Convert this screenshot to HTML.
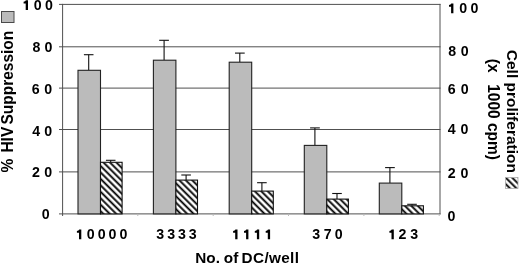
<!DOCTYPE html>
<html><head><meta charset="utf-8"><style>
html,body{margin:0;padding:0;background:#fff;width:520px;height:266px;overflow:hidden}
svg{display:block;will-change:transform}
text{font-family:"Liberation Sans",sans-serif;font-weight:bold;fill:#000}
path{fill:#000}
.ax{font-size:15.5px}
.ax2{font-size:15.3px}
.g{stroke:#505050;stroke-width:1}
.la{stroke:#333;stroke-width:1.2}
.ra{stroke:#777;stroke-width:1}
.t{stroke:#bbb;stroke-width:1}
.e{stroke:#111;stroke-width:1.1}
.gb{fill:#bbb;stroke:#222;stroke-width:1.1}
.hb{fill:url(#hatch);stroke:#111;stroke-width:1.1}
.lg{fill:#bbb;stroke:#4a4a4a;stroke-width:1}
.lh{fill:url(#hatch);stroke:#aaa;stroke-width:0.8}
</style></head><body>
<svg width="520" height="266" viewBox="0 0 520 266">
<defs>
<pattern id="hatch" patternUnits="userSpaceOnUse" width="4.561" height="10" patternTransform="rotate(-45)"><rect x="0" y="0" width="4.561" height="10" fill="#fff"/><rect x="3.035" y="0" width="1.85" height="10" fill="#000"/><rect x="-1.526" y="0" width="1.85" height="10" fill="#000"/></pattern>
</defs>
<rect x="1.5" y="11.5" width="12.5" height="11" class="lg"/>
<rect x="505.5" y="177.5" width="12.5" height="11" class="lh"/>
<line x1="59" y1="4.4" x2="440.5" y2="4.4" class="g"/>
<line x1="59" y1="46.8" x2="440.5" y2="46.8" class="g"/>
<line x1="59" y1="88.1" x2="440.5" y2="88.1" class="g"/>
<line x1="59" y1="129.5" x2="440.5" y2="129.5" class="g"/>
<line x1="59" y1="171.9" x2="440.5" y2="171.9" class="g"/>
<line x1="59" y1="213.9" x2="440.5" y2="213.9" class="g"/>
<line x1="440.0" y1="3.9" x2="440.0" y2="214.4" class="g"/>
<line x1="62.6" y1="3.9" x2="62.6" y2="216" class="g"/>
<line x1="137.8" y1="213.9" x2="137.8" y2="216" class="t"/>
<line x1="213.2" y1="213.9" x2="213.2" y2="216" class="t"/>
<line x1="288.5" y1="213.9" x2="288.5" y2="216" class="t"/>
<line x1="363.9" y1="213.9" x2="363.9" y2="216" class="t"/>
<line x1="439.2" y1="213.9" x2="439.2" y2="216" class="t"/>
<line x1="88.7" y1="54.7" x2="88.7" y2="70.3" class="e"/>
<line x1="83.9" y1="54.7" x2="93.5" y2="54.7" class="e"/>
<line x1="110.7" y1="160.3" x2="110.7" y2="162.3" class="e"/>
<line x1="105.9" y1="160.3" x2="115.5" y2="160.3" class="e"/>
<rect x="78.0" y="70.3" width="22.5" height="143.6" class="gb"/>
<rect x="100.5" y="162.3" width="21.6" height="51.6" class="hb"/>
<line x1="164.1" y1="40.3" x2="164.1" y2="60.2" class="e"/>
<line x1="159.2" y1="40.3" x2="168.9" y2="40.3" class="e"/>
<line x1="186.1" y1="175.0" x2="186.1" y2="180.1" class="e"/>
<line x1="181.3" y1="175.0" x2="190.9" y2="175.0" class="e"/>
<rect x="153.4" y="60.2" width="22.5" height="153.7" class="gb"/>
<rect x="175.9" y="180.1" width="21.6" height="33.8" class="hb"/>
<line x1="239.8" y1="53.1" x2="239.8" y2="62.2" class="e"/>
<line x1="235.0" y1="53.1" x2="244.7" y2="53.1" class="e"/>
<line x1="261.9" y1="182.7" x2="261.9" y2="191.1" class="e"/>
<line x1="257.1" y1="182.7" x2="266.7" y2="182.7" class="e"/>
<rect x="229.2" y="62.2" width="22.5" height="151.7" class="gb"/>
<rect x="251.7" y="191.1" width="21.6" height="22.8" class="hb"/>
<line x1="314.9" y1="127.9" x2="314.9" y2="145.4" class="e"/>
<line x1="310.1" y1="127.9" x2="319.8" y2="127.9" class="e"/>
<line x1="337.0" y1="193.5" x2="337.0" y2="199.1" class="e"/>
<line x1="332.2" y1="193.5" x2="341.8" y2="193.5" class="e"/>
<rect x="304.3" y="145.4" width="22.5" height="68.5" class="gb"/>
<rect x="326.8" y="199.1" width="21.6" height="14.8" class="hb"/>
<line x1="389.9" y1="167.6" x2="389.9" y2="183.1" class="e"/>
<line x1="385.1" y1="167.6" x2="394.8" y2="167.6" class="e"/>
<line x1="412.0" y1="204.3" x2="412.0" y2="205.8" class="e"/>
<line x1="407.2" y1="204.3" x2="416.8" y2="204.3" class="e"/>
<rect x="379.3" y="183.1" width="22.5" height="30.8" class="gb"/>
<rect x="401.8" y="205.8" width="21.6" height="8.1" class="hb"/>
<path d="M28.00,0.20 L28.00,10.00 L25.70,10.00 L25.70,3.50 L23.60,3.50 L23.60,1.70 Q25.50,1.60 25.90,0.20 Z"/>
<text x="33.73" y="10.00" style="font-size:14.2px">0</text>
<text x="44.93" y="10.00" style="font-size:14.2px">0</text>
<text x="32.55" y="51.50" style="font-size:14.2px">8</text>
<text x="44.43" y="51.50" style="font-size:14.2px">0</text>
<text x="31.87" y="93.50" style="font-size:14.2px">6</text>
<text x="44.33" y="93.50" style="font-size:14.2px">0</text>
<text x="32.19" y="135.50" style="font-size:14.2px">4</text>
<text x="44.33" y="135.50" style="font-size:14.2px">0</text>
<text x="31.90" y="177.00" style="font-size:14.2px">2</text>
<text x="44.33" y="177.00" style="font-size:14.2px">0</text>
<text x="41.73" y="218.70" style="font-size:14.2px">0</text>
<path d="M453.40,3.50 L453.40,13.30 L451.10,13.30 L451.10,6.80 L449.00,6.80 L449.00,5.00 Q450.90,4.90 451.30,3.50 Z"/>
<text x="459.33" y="13.30" style="font-size:14.2px">0</text>
<text x="470.43" y="13.30" style="font-size:14.2px">0</text>
<text x="448.25" y="56.00" style="font-size:14.2px">8</text>
<text x="460.73" y="56.00" style="font-size:14.2px">0</text>
<text x="447.87" y="94.40" style="font-size:14.2px">6</text>
<text x="460.73" y="94.40" style="font-size:14.2px">0</text>
<text x="447.79" y="134.20" style="font-size:14.2px">4</text>
<text x="460.43" y="134.20" style="font-size:14.2px">0</text>
<text x="447.70" y="177.70" style="font-size:14.2px">2</text>
<text x="460.43" y="177.70" style="font-size:14.2px">0</text>
<text x="447.43" y="221.30" style="font-size:14.2px">0</text>
<path d="M81.30,229.50 L81.30,239.30 L79.00,239.30 L79.00,232.80 L76.90,232.80 L76.90,231.00 Q78.80,230.90 79.20,229.50 Z"/>
<text x="86.73" y="239.30" style="font-size:14.2px">0</text>
<text x="97.63" y="239.30" style="font-size:14.2px">0</text>
<text x="108.53" y="239.30" style="font-size:14.2px">0</text>
<text x="119.43" y="239.30" style="font-size:14.2px">0</text>
<text x="156.17" y="239.30" style="font-size:14.2px">3</text>
<text x="167.27" y="239.30" style="font-size:14.2px">3</text>
<text x="178.07" y="239.30" style="font-size:14.2px">3</text>
<text x="188.87" y="239.30" style="font-size:14.2px">3</text>
<path d="M237.50,229.50 L237.50,239.30 L235.20,239.30 L235.20,232.80 L233.10,232.80 L233.10,231.00 Q235.00,230.90 235.40,229.50 Z"/>
<path d="M248.40,229.50 L248.40,239.30 L246.10,239.30 L246.10,232.80 L244.00,232.80 L244.00,231.00 Q245.90,230.90 246.30,229.50 Z"/>
<path d="M259.20,229.50 L259.20,239.30 L256.90,239.30 L256.90,232.80 L254.80,232.80 L254.80,231.00 Q256.70,230.90 257.10,229.50 Z"/>
<path d="M270.10,229.50 L270.10,239.30 L267.80,239.30 L267.80,232.80 L265.70,232.80 L265.70,231.00 Q267.60,230.90 268.00,229.50 Z"/>
<text x="312.37" y="239.30" style="font-size:14.2px">3</text>
<text x="323.69" y="239.30" style="font-size:14.2px">7</text>
<text x="334.63" y="239.30" style="font-size:14.2px">0</text>
<path d="M393.80,229.50 L393.80,239.30 L391.50,239.30 L391.50,232.80 L389.40,232.80 L389.40,231.00 Q391.30,230.90 391.70,229.50 Z"/>
<text x="398.60" y="239.30" style="font-size:14.2px">2</text>
<text x="410.27" y="239.30" style="font-size:14.2px">3</text>
<text x="195.3" y="262.6" class="ax2">No.</text>
<text x="223.8" y="262.6" class="ax2">of</text>
<text x="241.6" y="262.6" class="ax2" style="letter-spacing:0.35px">DC/well</text>
<text transform="translate(13.3,124.6) rotate(-90) scale(1,1.06)" class="ax">Suppression</text>
<text transform="translate(13.3,152.6) rotate(-90) scale(1,1.06)" class="ax">HIV</text>
<text transform="translate(13.3,172.6) rotate(-90) scale(1,1.06)" class="ax">%</text>
<text transform="translate(507.0,49.8) rotate(90)" class="ax">Cell proliferation</text>
<text transform="translate(488.2,58.8) rotate(90) scale(1,1.06)" class="ax">(x</text>
<text transform="translate(488.2,84.2) rotate(90) scale(1,1.06)" class="ax">1000 cpm)</text>
</svg>
</body></html>
